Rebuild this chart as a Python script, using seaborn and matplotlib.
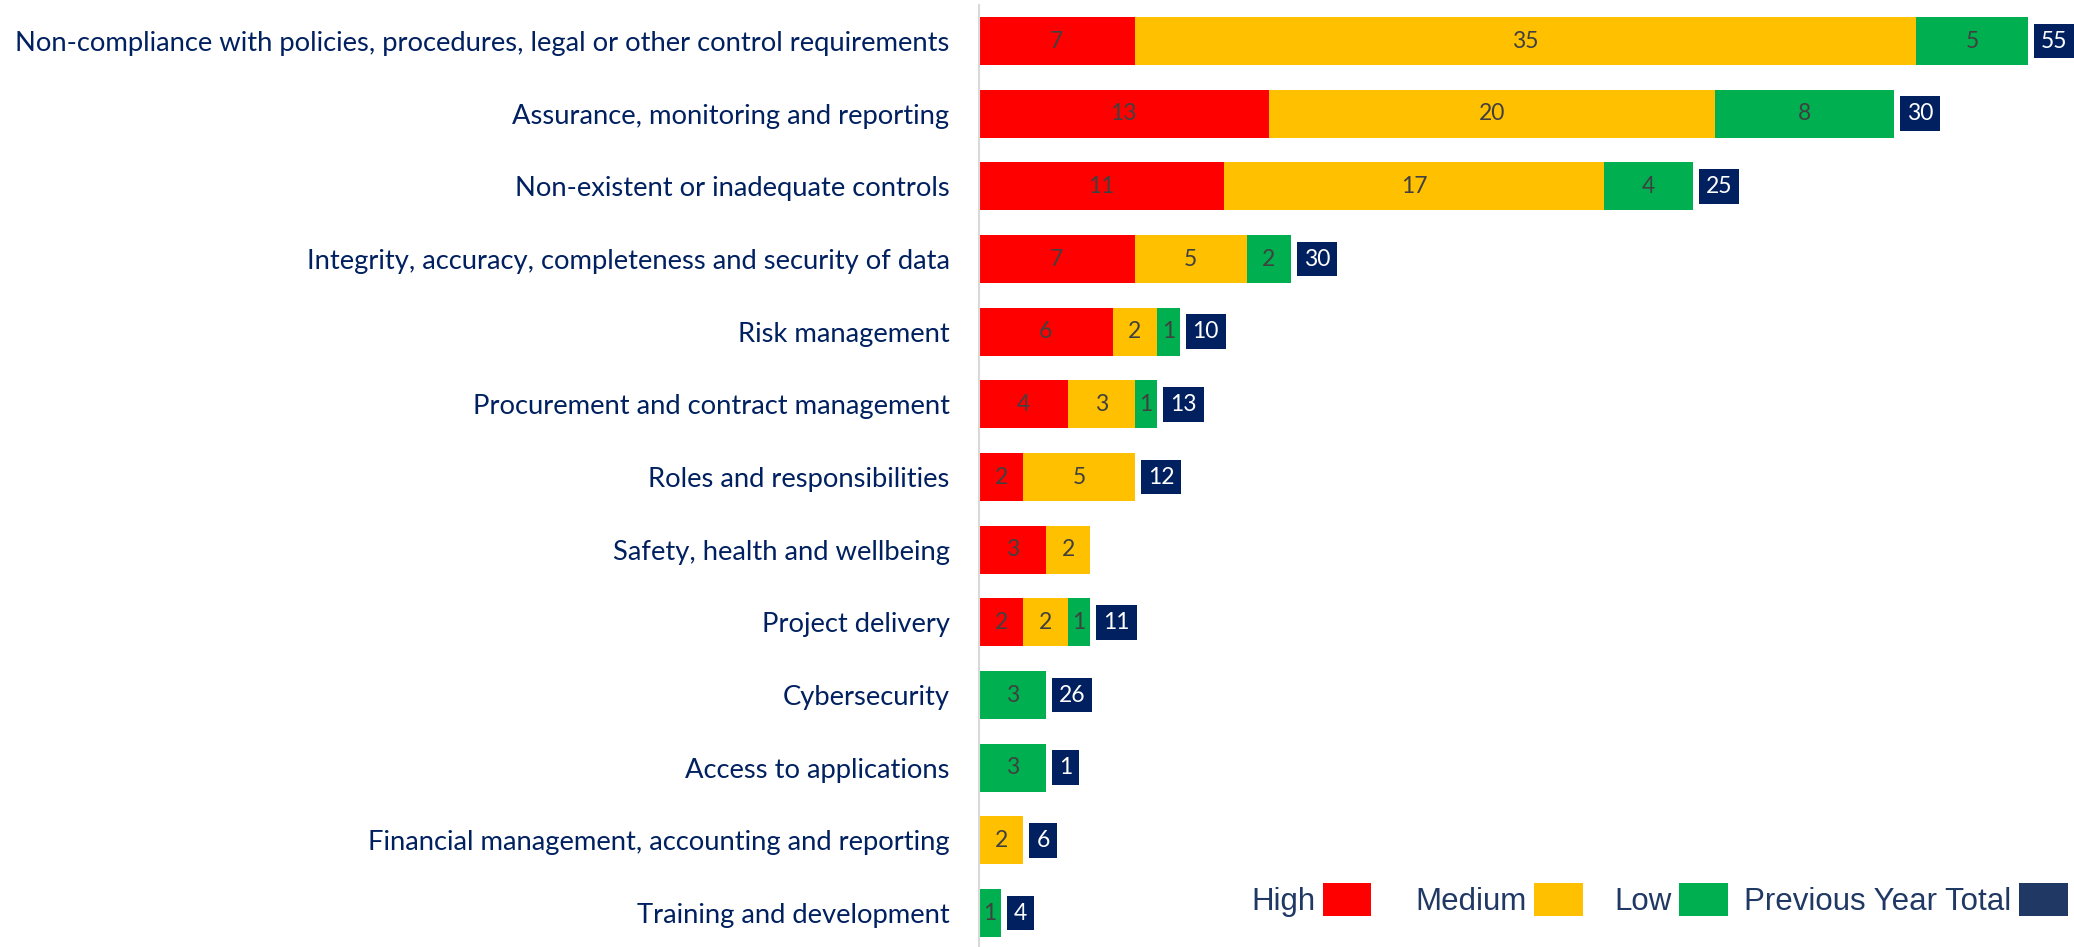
# plot.py
# Findings by category: stacked High / Medium / Low bars with the previous year total in a navy box

import numpy as np
import pandas as pd
import matplotlib
matplotlib.use("Agg")
import matplotlib.pyplot as plt
from matplotlib.patches import Patch
from matplotlib.ticker import FixedLocator
import seaborn as sns

# Data
categories = [
    "Non-compliance with policies, procedures, legal or other control requirements",
    "Assurance, monitoring and reporting",
    "Non-existent or inadequate controls",
    "Integrity, accuracy, completeness and security of data",
    "Risk management",
    "Procurement and contract management",
    "Roles and responsibilities",
    "Safety, health and wellbeing",
    "Project delivery",
    "Cybersecurity",
    "Access to applications",
    "Financial management, accounting and reporting",
    "Training and development",
]
high = [7, 13, 11, 7, 6, 4, 2, 3, 2, 0, 0, 0, 0]
medium = [35, 20, 17, 5, 2, 3, 5, 2, 2, 0, 0, 2, 0]
low = [5, 8, 4, 2, 1, 1, 0, 0, 1, 3, 3, 0, 1]
prev_total = [55, 30, 25, 30, 10, 13, 12, None, 11, 26, 1, 6, 4]

legend_labels = ["High", "Medium", "Low", "Previous Year Total"]

# Colours
red = "#FF0000"
yellow = "#FFC000"
green = "#00B050"
navy = "#002060"
navy_legend = "#203864"

df = pd.DataFrame({"category": categories, "high": high, "medium": medium, "low": low})
df["hm"] = df["high"] + df["medium"]
df["total"] = df["hm"] + df["low"]

sns.set_style("white")
plt.rcParams["font.family"] = ["Lato", "DejaVu Sans"]

fig = plt.figure(figsize=(20.74, 9.47), dpi=100)
ax = fig.add_axes([0.4719, -0.0025, 0.5281, 0.9975])

# Stacked bars: draw cumulative totals from the back to the front
for col, c in [("total", green), ("hm", yellow), ("high", red)]:
    sns.barplot(data=df, x=col, y="category", color=c, saturation=1,
                width=0.66, orient="h", ax=ax, linewidth=0, errorbar=None)

# Segment labels
for i in range(len(categories)):
    starts = [0, high[i], high[i] + medium[i]]
    for val, start in zip([high[i], medium[i], low[i]], starts):
        if val > 0:
            ax.text(start + val / 2, i, str(val), ha="center", va="center",
                    color="#404040", fontsize=16.5)
    # previous year total box (offset covers the gap plus the box padding)
    if prev_total[i] is not None:
        end = high[i] + medium[i] + low[i]
        ax.text(end + 0.58, i, str(prev_total[i]), ha="left", va="center",
                color="white", fontsize=16.5,
                bbox=dict(boxstyle="square,pad=0.3", fc=navy, ec="none"))

# Axes styling
ax.set_xlim(0, 49.07)
ax.set_ylim(12.5, -0.5)
ax.set_xlabel("")
ax.set_ylabel("")
ax.set_xticks([])
sns.despine(ax=ax, left=False, bottom=True)
ax.spines["left"].set_color("#D9D9D9")
ax.spines["left"].set_linewidth(1.5)
ax.tick_params(axis="y", which="major", length=0, pad=21, labelsize=19.75, labelcolor=navy)
ax.yaxis.set_minor_locator(FixedLocator(np.arange(-0.5, 13, 1)))
ax.tick_params(axis="y", which="minor", length=6, color="#D9D9D9", width=1.5)

# Legend: one entry per legend so the uneven spacing of the original can be kept
legend_x = [0.6032, 0.6823, 0.7782, 0.8409]
for c, l, x in zip([red, yellow, green, navy_legend], legend_labels, legend_x):
    leg = fig.legend(handles=[Patch(facecolor=c, edgecolor="none", label=l)],
                     loc="center left", bbox_to_anchor=(x, 0.05),
                     markerfirst=False, frameon=False,
                     prop={"family": "Liberation Sans", "size": 22.5}, labelcolor=navy_legend,
                     handlelength=1.55, handleheight=1.25, handletextpad=0.25,
                     borderpad=0, borderaxespad=0)

fig.savefig("out.png", dpi=100)
